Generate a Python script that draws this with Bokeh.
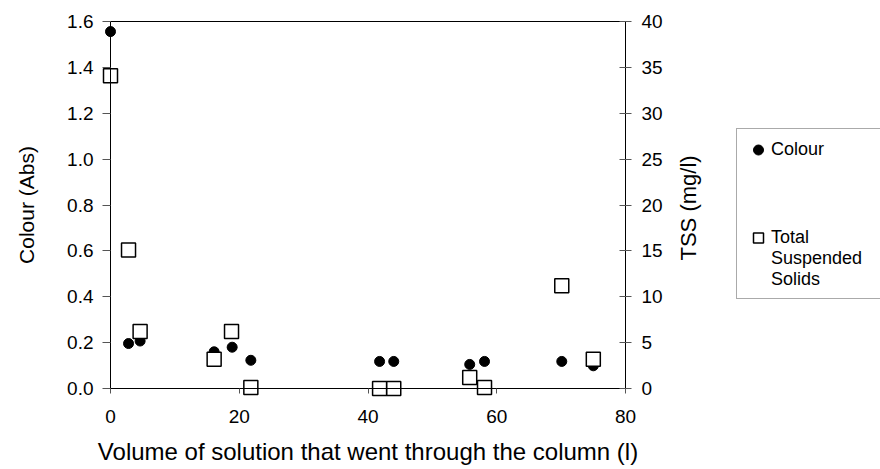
from bokeh.plotting import figure
from bokeh.models import (Range1d, LinearAxis, Legend, LegendItem,
                          FixedTicker, NumeralTickFormatter)
from bokeh.embed import file_html
from bokeh.resources import INLINE
import math

# ---- data ----
volume_colour = [0.0, 2.8, 4.6, 16.1, 18.9, 21.8, 41.8, 44.0, 55.8, 58.1, 70.1, 75.0]
colour_abs = [1.556, 0.196, 0.207, 0.16, 0.18, 0.123, 0.118, 0.118, 0.105, 0.118, 0.118, 0.099]
volume_tss = [0.0, 2.8, 4.6, 16.1, 18.8, 21.8, 41.8, 44.0, 55.8, 58.1, 70.1, 75.0]
tss_mgl = [34.1, 15.1, 6.2, 3.2, 6.2, 0.1, 0.0, 0.0, 1.2, 0.1, 11.2, 3.2]

x_ticks = [0, 20, 40, 60, 80]
colour_ticks = [0.0, 0.2, 0.4, 0.6, 0.8, 1.0, 1.2, 1.4, 1.6]
tss_ticks = [0, 5, 10, 15, 20, 25, 30, 35, 40]
X_MAX, Y_MAX, TSS_MAX = 80, 1.6, 40

# ---- layout (pixels) ----
W, H = 880, 469
X0_PX, XMAX_PX = 110, 625      # where x = 0 and x = 80 sit
Y0_PX, YMAX_PX = 388, 21       # where y = 0 and y = 1.6 sit (from top)
TSS_TITLE_START_PX = 260       # lower end of the rotated right-axis title
sx = (XMAX_PX - X0_PX) / X_MAX
sy = (Y0_PX - YMAX_PX) / Y_MAX
x_start, x_end = -X0_PX / sx, (W - X0_PX) / sx
y_start, y_end = -(H - Y0_PX) / sy, Y_MAX + YMAX_PX / sy
k = TSS_MAX / Y_MAX
tss_title_anchor = (Y0_PX - TSS_TITLE_START_PX) / sy * k

FONT = "Liberation Sans"
TICK_SIZE = "19px"

p = figure(width=W, height=H, output_backend="svg", toolbar_location=None,
           x_range=Range1d(x_start, x_end), y_range=Range1d(y_start, y_end),
           x_axis_location=None, y_axis_location=None,
           min_border=0)
p.extra_y_ranges = {"tss": Range1d(y_start * k, y_end * k)}
p.outline_line_color = None
p.background_fill_color = "white"
p.border_fill_color = "white"
p.xgrid.visible = False
p.ygrid.visible = False


def style(ax, title_size="21px"):
    ax.axis_line_color = "black"
    ax.axis_line_width = 1
    ax.major_tick_line_color = "#555555"
    ax.minor_tick_line_color = None
    ax.major_label_text_font = FONT
    ax.major_label_text_font_size = TICK_SIZE
    ax.major_label_text_color = "black"
    ax.axis_label_text_font = FONT
    ax.axis_label_text_font_size = title_size
    ax.axis_label_text_font_style = "normal"
    ax.axis_label_text_color = "black"


# left axis (Colour)
yax = LinearAxis(fixed_location=0, bounds=(0, Y_MAX),
                 ticker=FixedTicker(ticks=colour_ticks),
                 formatter=NumeralTickFormatter(format="0.0"),
                 axis_label="Colour (Abs)")
style(yax, "21px")
yax.major_tick_in = 0
yax.major_tick_out = 8
yax.major_label_standoff = 9
yax.axis_label_standoff = 26
p.add_layout(yax, "left")

# bottom axis
xax = LinearAxis(fixed_location=0, bounds=(0, X_MAX),
                 ticker=FixedTicker(ticks=x_ticks),
                 axis_label="Volume of solution that went through the column (l)")
style(xax, "24px")
xax.major_tick_in = 0
xax.major_tick_out = 5
xax.major_label_standoff = 16
xax.axis_label_standoff = 12
p.add_layout(xax, "below")

# right axis (TSS): line, ticks and tick labels
rax = LinearAxis(fixed_location=X_MAX, y_range_name="tss", bounds=(0, TSS_MAX),
                 ticker=FixedTicker(ticks=tss_ticks))
style(rax, "22px")
rax.major_tick_in = 6
rax.major_tick_out = 6
rax.major_label_standoff = 10
p.add_layout(rax, "right")

# right axis title, reading bottom-to-top
tlab = LinearAxis(fixed_location=X_MAX, y_range_name="tss",
                  bounds=(0, 2 * tss_title_anchor),
                  ticker=FixedTicker(ticks=[]), axis_label="TSS (mg/l)")
style(tlab, "22px")
tlab.axis_line_color = None
tlab.major_tick_in = 0
tlab.major_tick_out = 0
tlab.major_label_standoff = 0
tlab.axis_label_standoff = 63
tlab.axis_label_orientation = math.pi / 2
p.add_layout(tlab, "right")

# top border line
tax = LinearAxis(fixed_location=Y_MAX, bounds=(0, X_MAX), ticker=FixedTicker(ticks=[]))
style(tax)
tax.major_tick_in = 0
tax.major_tick_out = 0
p.add_layout(tax, "above")

circ = p.scatter(volume_colour, colour_abs, marker="circle", size=10,
                 fill_color="black", line_color="black")
sq = p.scatter(volume_tss, tss_mgl, y_range_name="tss", marker="square", size=14,
               fill_color="white", line_color="black", line_width=1.5)

legend = Legend(items=[LegendItem(label="Colour", renderers=[circ]),
                       LegendItem(label="\n\nTotal\nSuspended\nSolids", renderers=[sq])],
                location=(736, 170),
                border_line_color="#555555", border_line_width=1,
                background_fill_color="white", background_fill_alpha=1,
                padding=8, spacing=23, margin=0,
                glyph_width=26, glyph_height=25, label_standoff=0,
                label_width=130,
                label_text_font=FONT, label_text_font_size="18px",
                label_text_color="black")
p.add_layout(legend)

open("out.html", "w").write(file_html(p, INLINE))
